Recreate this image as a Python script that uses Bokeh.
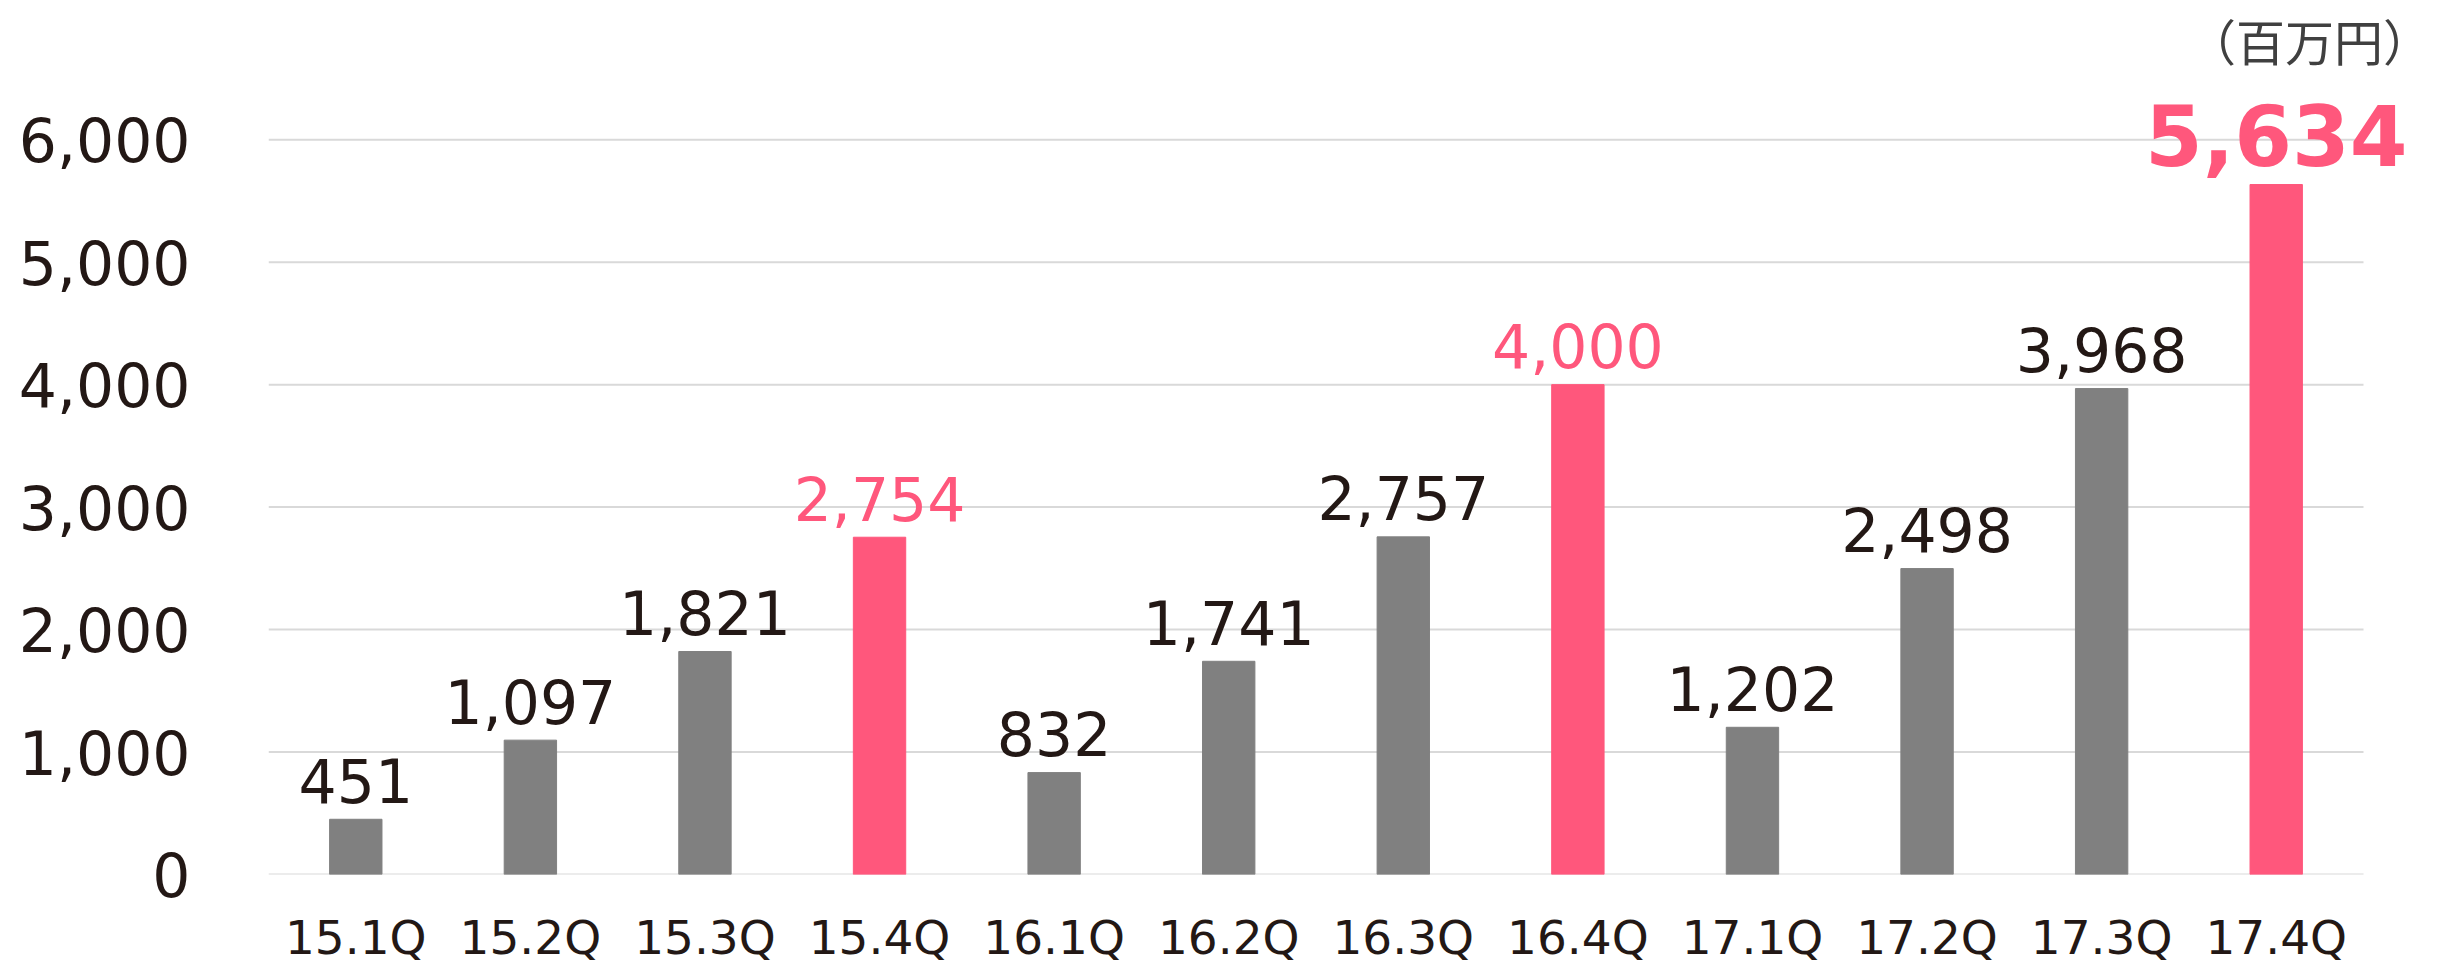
from bokeh.plotting import figure
from bokeh.models import Range1d, FixedTicker, NumeralTickFormatter, Label, ColumnDataSource
from bokeh.core.properties import value
from bokeh.embed import file_html
from bokeh.resources import INLINE

# ---- data ----
categories = ["15.1Q", "15.2Q", "15.3Q", "15.4Q", "16.1Q", "16.2Q",
              "16.3Q", "16.4Q", "17.1Q", "17.2Q", "17.3Q", "17.4Q"]
values = [451, 1097, 1821, 2754, 832, 1741, 2757, 4000, 1202, 2498, 3968, 5634]
highlight = ["15.4Q", "16.4Q", "17.4Q"]
y_ticks = [0, 1000, 2000, 3000, 4000, 5000, 6000]
unit_label = "（百万円）"

# ---- styles ----
GRAY = "#808080"
PINK = "#FF577C"
TEXT = "#231815"
LIGHT_FONT = "DejaVu Sans ExtraLight, DejaVu Sans"

n = len(categories)
FRAME_H = 876
Y_END = 7136.6
X_END = n + 0.441          # room on the right for the big label
px = Y_END / FRAME_H       # data units per pixel

xs = [i + 0.5 for i in range(n)]
peak_idx = values.index(max(values))
colors = [PINK if c in highlight else GRAY for c in categories]
label_colors = [PINK if c in highlight else TEXT for c in categories]
labels = [f"{v:,}" for v in values]

normal = [i for i in range(n) if i != peak_idx]
src_bars = ColumnDataSource(dict(x=xs, top=values, color=colors))
src_lab = ColumnDataSource(dict(
    x=[xs[i] for i in normal],
    y=[values[i] + 39 * px for i in normal],
    text=[labels[i] for i in normal],
    color=[label_colors[i] for i in normal],
))
src_peak = ColumnDataSource(dict(
    x=[xs[peak_idx]],
    y=[values[peak_idx] + 50 * px],
    text=[labels[peak_idx]],
))
src_grid = ColumnDataSource(dict(x0=[0] * len(y_ticks), x1=[n] * len(y_ticks),
                                 y=y_ticks))

p = figure(x_range=Range1d(0, X_END),
           y_range=Range1d(0, Y_END),
           width=2440, height=967,
           min_border_left=268, min_border_right=0,
           min_border_top=0, min_border_bottom=91,
           output_backend="svg", toolbar_location=None)

p.outline_line_color = None
p.background_fill_color = "white"
p.border_fill_color = "white"
p.xgrid.grid_line_color = None
p.ygrid.grid_line_color = None

# horizontal grid lines spanning the categories only
p.segment(x0="x0", x1="x1", y0="y", y1="y", source=src_grid,
          line_color="#d9d9d9", line_width=2)

p.vbar(x="x", top="top", width=0.3, color="color", source=src_bars)

p.text(x="x", y="y", text="text", text_color="color", source=src_lab,
       text_align="center", text_baseline="middle",
       text_font=value(LIGHT_FONT), text_font_size="60px")
p.text(x="x", y="y", text="text", text_color=PINK, source=src_peak,
       text_align="center", text_baseline="middle",
       text_font=value("DejaVu Sans"), text_font_style="bold",
       text_font_size="83px")

# axes
yax = p.yaxis[0]
yax.ticker = FixedTicker(ticks=y_ticks)
yax.formatter = NumeralTickFormatter(format="0,0")
yax.axis_line_color = None
yax.major_tick_line_color = None
yax.minor_tick_line_color = None
yax.major_tick_out = 0
yax.major_tick_in = 0
yax.major_label_standoff = 78
yax.major_label_text_font = LIGHT_FONT
yax.major_label_text_font_size = "60px"
yax.major_label_text_color = TEXT

xax = p.xaxis[0]
xax.ticker = FixedTicker(ticks=xs)
xax.major_label_overrides = {x: c for x, c in zip(xs, categories)}
xax.axis_line_color = None
xax.major_tick_line_color = None
xax.minor_tick_line_color = None
xax.major_tick_out = 0
xax.major_tick_in = 0
xax.major_label_standoff = 35
xax.major_label_text_font = LIGHT_FONT
xax.major_label_text_font_size = "47px"
xax.major_label_text_color = TEXT

unit = Label(x=11.69, y=6820, text=unit_label, text_align="center",
             text_baseline="middle", text_font="Noto Sans CJK JP",
             text_font_size="49px", text_color="#404040")
p.add_layout(unit)

open("out.html", "w").write(file_html(p, INLINE))
